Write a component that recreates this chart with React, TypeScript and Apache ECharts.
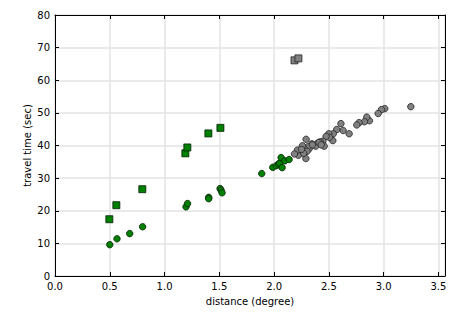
import React, { useEffect, useRef } from "react";
import * as echarts from "echarts";

// Green squares: [distance, travel time]
const greenSquares: number[][] = [
  [0.496, 17.4], [0.56, 21.7], [0.797, 26.6], [1.19, 37.6], [1.208, 39.4], [1.40, 43.7], [1.51, 45.4],
];
// Green circles
const greenCircles: number[][] = [
  [0.50, 9.6], [0.566, 11.4], [0.682, 13.0], [0.80, 15.1], [1.196, 21.2], [1.21, 22.2],
  [1.403, 24.1], [1.403, 23.7], [1.507, 26.8], [1.516, 26.3], [1.525, 25.5],
  [1.887, 31.4], [1.988, 33.3], [2.02, 33.8], [2.04, 34.3], [2.05, 34.6], [2.064, 36.3],
  [2.073, 33.2], [2.098, 35.3], [2.137, 35.7],
];
// Grey squares
const greySquares: number[][] = [
  [2.186, 66.1], [2.222, 66.7],
];
// Grey circles
const greyCircles: number[][] = [
  [3.248, 51.9], [3.01, 51.3], [2.98, 51.0], [2.95, 49.8], [2.87, 47.6], [2.846, 48.7],
  [2.825, 47.3], [2.776, 47.0], [2.755, 46.3], [2.685, 43.6], [2.63, 44.6], [2.61, 46.7],
  [2.572, 44.9], [2.54, 43.6], [2.536, 41.5], [2.50, 43.6], [2.505, 42.5], [2.475, 42.8],
  [2.445, 41.3], [2.457, 39.8], [2.42, 41.1], [2.395, 40.7], [2.38, 39.8], [2.344, 40.5],
  [2.32, 39.0], [2.292, 41.9], [2.29, 36.0], [2.307, 39.6], [2.277, 39.0], [2.258, 39.9],
  [2.268, 37.9], [2.237, 38.1], [2.222, 37.0], [2.213, 38.6], [2.186, 37.4], [2.30, 38.2],
  [2.27, 37.6], [2.25, 38.8], [2.35, 40.2], [2.41, 40.9], [2.43, 40.2],
];

const xTicks = [0, 0.5, 1.0, 1.5, 2.0, 2.5, 3.0, 3.5];
const yTicks = [0, 10, 20, 30, 40, 50, 60, 70, 80];

export default function App() {
  const ref = useRef<HTMLDivElement>(null);
  useEffect(() => {
    if (!ref.current) return;
    const chart = echarts.init(ref.current, undefined, { renderer: "svg" });
    const font = "DejaVu Sans";
    const isTick = (v: number, ticks: number[]) => ticks.some((t) => Math.abs(t - v) < 1e-6);
    const lbl = { fontFamily: font, fontSize: 10, color: "#000" };
    chart.setOption({
      animation: false,
      grid: { left: 55, right: 20, top: 15, bottom: 39, show: false },
      xAxis: [
        {
          type: "value", min: 0, max: 3.56, interval: 0.5, position: "bottom",
          name: "distance (degree)", nameLocation: "middle", nameGap: 20, nameMoveOverlap: false,
          nameTextStyle: { fontFamily: font, fontSize: 10, color: "#000" },
          axisLine: { show: true, onZero: false, lineStyle: { color: "#000", width: 1 } },
          axisTick: { show: true, inside: true, length: 4, lineStyle: { color: "#000" } },
          axisLabel: { ...lbl, margin: 5, formatter: (v: number) => (isTick(v, xTicks) ? v.toFixed(1) : "") },
          splitLine: { show: true, lineStyle: { color: "#e3e3e3", width: 1.5 } },
        },
        {
          type: "value", min: 0, max: 3.56, interval: 0.5, position: "top",
          axisLine: { show: true, onZero: false, lineStyle: { color: "#000", width: 1 } },
          axisTick: { show: true, inside: true, length: 4, lineStyle: { color: "#000" } },
          axisLabel: { show: false }, splitLine: { show: false },
        },
      ],
      yAxis: [
        {
          type: "value", min: 0, max: 80, interval: 10, position: "left",
          name: "travel time (sec)", nameLocation: "middle", nameGap: 28, nameRotate: 90, nameMoveOverlap: false,
          nameTextStyle: { fontFamily: font, fontSize: 10, color: "#000", verticalAlign: "middle" },
          axisLine: { show: true, onZero: false, lineStyle: { color: "#000", width: 1 } },
          axisTick: { show: true, inside: true, length: 4, lineStyle: { color: "#000" } },
          axisLabel: { ...lbl, margin: 5, formatter: (v: number) => (isTick(v, yTicks) ? String(v) : "") },
          splitLine: { show: true, lineStyle: { color: "#e3e3e3", width: 1.5 } },
        },
        {
          type: "value", min: 0, max: 80, interval: 10, position: "right",
          axisLine: { show: true, onZero: false, lineStyle: { color: "#000", width: 1 } },
          axisTick: { show: true, inside: true, length: 4, lineStyle: { color: "#000" } },
          axisLabel: { show: false }, splitLine: { show: false },
        },
      ],
      series: [
        {
          type: "scatter", data: greyCircles, symbol: "circle", symbolSize: 6.5, z: 2,
          itemStyle: { color: "#808080", borderColor: "#222", borderWidth: 0.8, opacity: 1 },
        },
        {
          type: "scatter", data: greySquares, symbol: "rect", symbolSize: 7, z: 2,
          itemStyle: { color: "#808080", borderColor: "#222", borderWidth: 0.8, opacity: 1 },
        },
        {
          type: "scatter", data: greenCircles, symbol: "circle", symbolSize: 6.5, z: 3,
          itemStyle: { color: "#008000", borderColor: "#062006", borderWidth: 0.8, opacity: 1 },
        },
        {
          type: "scatter", data: greenSquares, symbol: "rect", symbolSize: 7, z: 3,
          itemStyle: { color: "#008000", borderColor: "#062006", borderWidth: 0.8, opacity: 1 },
        },
      ],
    });
    return () => chart.dispose();
  }, []);
  return <div ref={ref} style={{ width: 465, height: 315, position: "absolute", left: 0, top: 0 }} />;
}
